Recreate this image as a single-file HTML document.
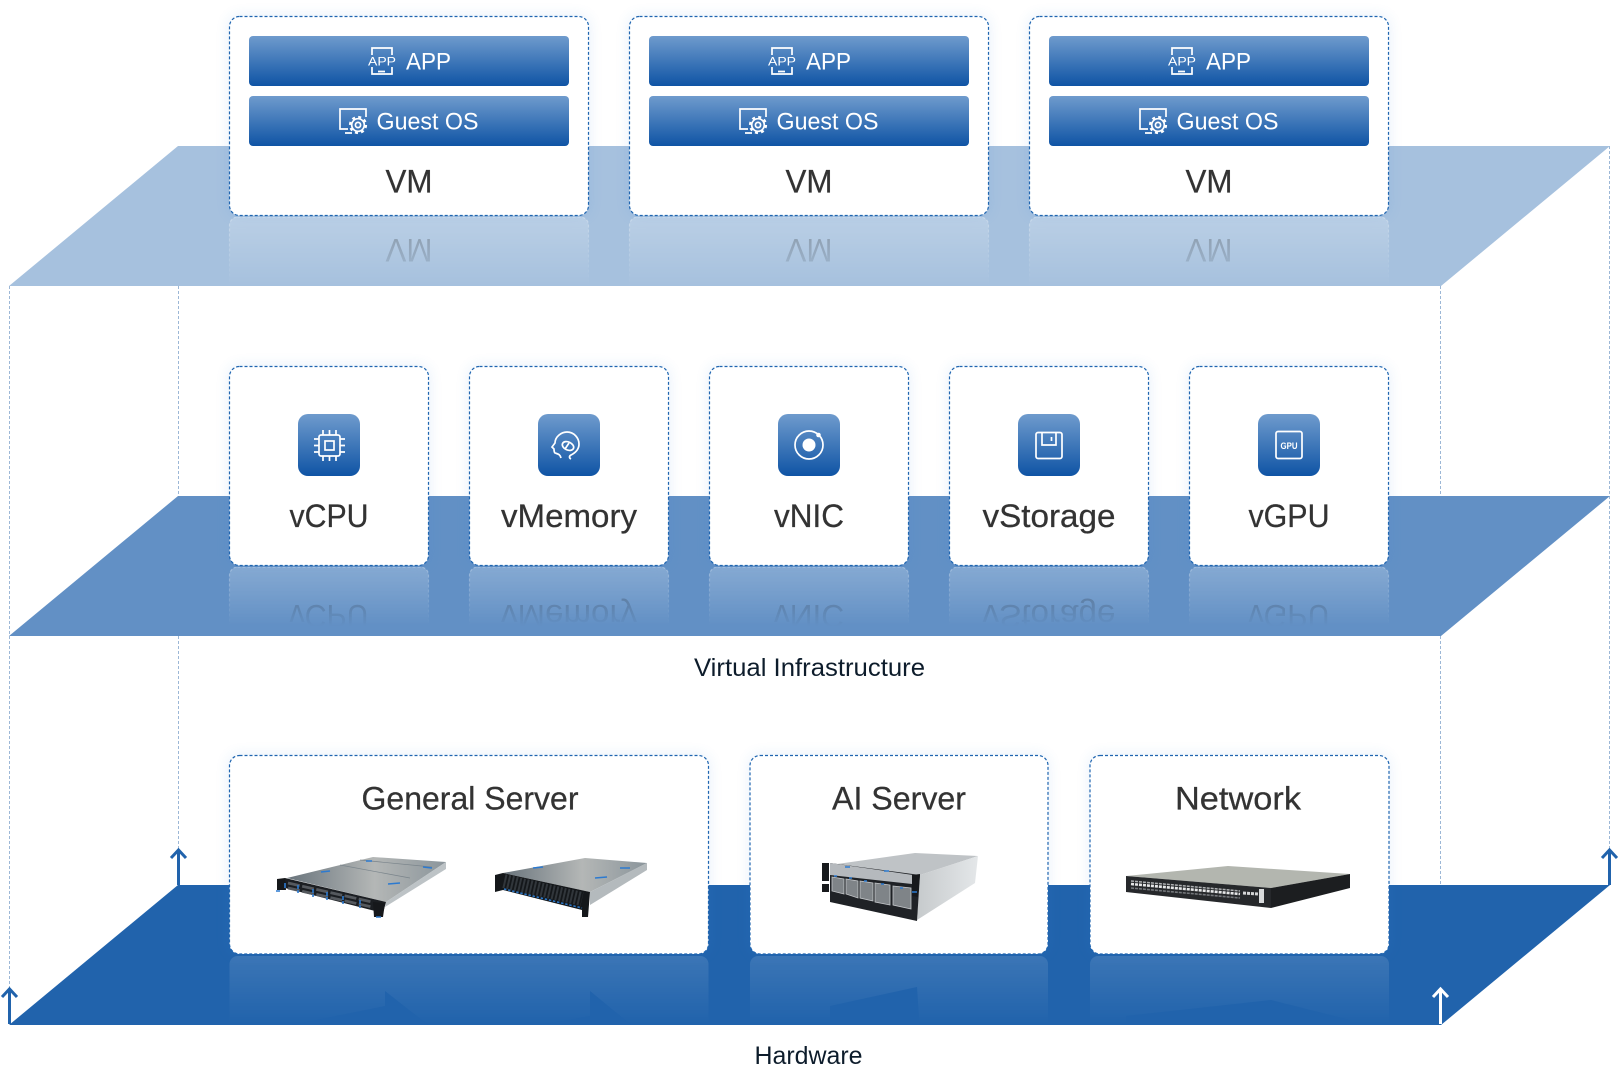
<!DOCTYPE html>
<html><head><meta charset="utf-8"><title>Architecture</title>
<style>
html,body{margin:0;padding:0;background:#fff;width:1619px;height:1066px;overflow:hidden}
svg{display:block}
text{font-family:"Liberation Sans",sans-serif;text-anchor:middle}
.t{fill:#333;font-size:32px;stroke:#333;stroke-width:.25}
.w{fill:#fff;font-size:24px}
.l{fill:#0d1c2b;font-size:25px}
.c{fill:#fff;stroke:#1f65b0;stroke-width:1.2;stroke-dasharray:3 2}
.g{fill:#3a86d6;opacity:.13;filter:url(#blur)}
.vl{stroke:#9cb7d6;stroke-width:1;stroke-dasharray:3 2;fill:none}
.rf{fill:#fff;fill-opacity:.23;stroke:#fff;stroke-opacity:.3;stroke-width:1.2;stroke-dasharray:3 2}
.ic{fill:none;stroke:#fff;stroke-width:1.7}
.ar{fill:none;stroke-width:3}
.bl{stroke:#2c7ad0;stroke-width:1.6;fill:none}
</style></head><body>
<svg width="1619" height="1066" viewBox="0 0 1619 1066" xmlns="http://www.w3.org/2000/svg">
<defs>
<filter id="blur" x="-20%" y="-20%" width="140%" height="140%"><feGaussianBlur stdDeviation="7"/></filter>
<linearGradient id="btn" x1="0" y1="0" x2="0" y2="1"><stop offset="0" stop-color="#6f9bcd"/><stop offset="1" stop-color="#0f54a5"/></linearGradient>
<linearGradient id="f1" gradientUnits="userSpaceOnUse" x1="0" y1="217" x2="0" y2="286"><stop offset="0" stop-color="#fff"/><stop offset="1" stop-color="#fff" stop-opacity=".02"/></linearGradient>
<linearGradient id="f2" gradientUnits="userSpaceOnUse" x1="0" y1="567" x2="0" y2="626"><stop offset="0" stop-color="#fff"/><stop offset="1" stop-color="#fff" stop-opacity="0"/></linearGradient>
<linearGradient id="f3" gradientUnits="userSpaceOnUse" x1="0" y1="955" x2="0" y2="1025"><stop offset="0" stop-color="#fff"/><stop offset="1" stop-color="#fff" stop-opacity="0"/></linearGradient>
<mask id="m1" maskUnits="userSpaceOnUse" x="0" y="200" width="1619" height="90"><rect x="0" y="200" width="1619" height="90" fill="url(#f1)"/></mask>
<mask id="m2" maskUnits="userSpaceOnUse" x="0" y="550" width="1619" height="90"><rect x="0" y="550" width="1619" height="90" fill="url(#f2)"/></mask>
<mask id="m3" maskUnits="userSpaceOnUse" x="0" y="940" width="1619" height="90"><rect x="0" y="940" width="1619" height="90" fill="url(#f3)"/></mask>
<clipPath id="c1"><rect x="0" y="217" width="1619" height="69"/></clipPath>
<clipPath id="c2"><rect x="0" y="567" width="1619" height="69"/></clipPath>
<clipPath id="c3"><rect x="0" y="956" width="1619" height="69"/></clipPath>
<linearGradient id="metal" x1="0" y1="0" x2="1" y2="0"><stop offset="0" stop-color="#69747c"/><stop offset=".55" stop-color="#b4b7b6"/><stop offset="1" stop-color="#8b959b"/></linearGradient>
<linearGradient id="metal2" x1="0" y1="0" x2="1" y2="0"><stop offset="0" stop-color="#c6cacc"/><stop offset="1" stop-color="#e4e7e9"/></linearGradient>
<g id="gicon">
<path class="ic" stroke-width="1.5" d="M366 117V109H340V129H348M345 133H352"/>
<circle cx="358" cy="125" r="8" fill="#3f76b6" stroke="none"/>
<circle class="ic" cx="358" cy="125" r="6.3"/>
<circle cx="358" cy="125" r="8" fill="none" stroke="#fff" stroke-width="2.2" stroke-dasharray="3 3.28"/>
<circle class="ic" stroke-width="1.4" cx="358" cy="125" r="2.6"/>
</g>
<g id="s1">
<polygon points="287,878 373,857 446,862 386,902" fill="url(#metal)"/>
<polygon points="386,902 446,862 446,869 385,907" fill="#bdc3c6"/>
<line x1="340" y1="865" x2="410" y2="878" stroke="#7a848b" stroke-width=".7"/><line x1="360" y1="860" x2="432" y2="867" stroke="#7a848b" stroke-width=".7"/>
<polygon points="285,878 386,902 383,913 285,888" fill="#1b1e22"/>
<polygon points="277,879 285,878 286,890 277,890" fill="#16181b"/>
<polygon points="373,902 385,903 383,917 374,917" fill="#16181b"/>
<line x1="288" y1="883" x2="372" y2="902" stroke="#55595e" stroke-width="2.8" stroke-dasharray="12 2.5"/>
<line x1="288" y1="888" x2="372" y2="907" stroke="#55595e" stroke-width="2.8" stroke-dasharray="12 2.5"/>
<path class="bl" d="M285 883v5M298 885v4M313 889v4M327 892v4M343 896v4M360 900v4M298 890v3M313 894v3M327 897v3M343 901v3M360 905v3"/>
<path class="bl" stroke-width="2.4" d="M321 872l9-1M388 884l12-1M423 867l9 1M366 861l6 0"/><path class="bl" d="M276 891h4M376 917h5"/>
</g>
<g id="s2">
<polygon points="503,873 585,858 647,863 590,892" fill="url(#metal)"/>
<polygon points="590,892 647,863 647,870 590,905" fill="#b4babd"/>
<polygon points="495,875 503,873 590,892 588,917 582,917 582,910 503,890 495,892" fill="#14171a"/>
<line x1="504" y1="881" x2="582" y2="899" stroke="#31363b" stroke-width="14" stroke-dasharray="2 1.8"/>
<line x1="504" y1="889" x2="582" y2="908" stroke="#2c78c8" stroke-width="1.6" stroke-dasharray="2.4 1.8"/>
<path class="bl" stroke-width="2.2" d="M533 868l10-1M595 878l12-1M620 868l10 0"/>
</g>
<g id="s3">
<polygon points="830,865 915,853 978,856 920,875" fill="#bfc3c6"/>
<polygon points="920,875 978,856 975,883 917,920" fill="url(#metal2)"/>
<polygon points="830,863 920,875 917,921 830,902" fill="#1f2226"/>
<polygon points="830,863 913,875 912,884 830,875" fill="#b5b9bd"/>
<g fill="#7f8488" stroke="#c4c7ca" stroke-width=".8">
<polygon points="832,877 844,879 844,894 832,891"/>
<polygon points="846,879 858,881 858,898 846,894"/>
<polygon points="860,881 873,883 873,901 860,898"/>
<polygon points="875,883 890,885 890,905 875,902"/>
<polygon points="893,886 911,888 911,909 893,905"/>
</g>
<polygon points="912,875 920,874 918,897 912,896" fill="#17191c"/>
<polygon points="822,863 829,863 829,881 822,881" fill="#17191c"/><polygon points="822,884 829,884 829,892 822,892" fill="#17191c"/>
<path class="bl" stroke-width="2" d="M845 867h5M884 871h5M834 876h3M849 878h3M864 881h3M881 884h3M900 888h3M912 892h5"/>
</g>
<g id="s4">
<polygon points="1126,876 1228,866 1350,874 1271,888" fill="#b3b6af"/>
<polygon points="1271,888 1350,874 1350,888 1271,908" fill="#1c1e20"/>
<polygon points="1126,876 1271,888 1271,908 1126,892" fill="#26282b"/>
<line x1="1131" y1="881" x2="1240" y2="891" stroke="#aeb0b2" stroke-width="1.5" stroke-dasharray="3 1"/>
<line x1="1131" y1="884" x2="1240" y2="894" stroke="#e6e7e8" stroke-width="2.6" stroke-dasharray="3 1"/>
<line x1="1131" y1="888" x2="1240" y2="898" stroke="#75787c" stroke-width="1.6" stroke-dasharray="3 1"/>
<line x1="1243" y1="893" x2="1258" y2="894" stroke="#d5d6d7" stroke-width="3" stroke-dasharray="3 1"/>
<rect x="1259" y="889" width="5" height="14" fill="#d8dadb"/>
</g>
</defs>

<!-- dashed uprights -->
<path class="vl" d="M9.5 286V988M178.5 286V849M1440.5 286V990M1609.5 146V849"/>

<!-- planes -->
<polygon points="178,146 1610,146 1441,286 9,286" fill="#a6c1de"/>
<polygon points="178,496 1610,496 1441,636 9,636" fill="#6290c5"/>
<polygon points="178,885 1610,885 1441,1025 9,1025" fill="#2163ac"/>

<!-- arrows -->
<path class="ar" stroke="#2163ac" d="M9.5 1024V990M2 997L9.5 989L17 997"/>
<path class="ar" stroke="#2163ac" d="M178.5 885V851M171 858L178.5 850L186 858"/>
<path class="ar" stroke="#2163ac" d="M1609.5 885V851M1602 858L1609.5 850L1617 858"/>
<path class="ar" stroke="#fff" d="M1440.5 1024V990M1433 997L1440.5 989L1448 997"/>

<!-- glows -->
<rect class="g" x="229" y="16" width="360" height="200" rx="10"/><rect class="g" x="629" y="16" width="360" height="200" rx="10"/><rect class="g" x="1029" y="16" width="360" height="200" rx="10"/>
<rect class="g" x="229" y="366" width="200" height="200" rx="10"/><rect class="g" x="469" y="366" width="200" height="200" rx="10"/><rect class="g" x="709" y="366" width="200" height="200" rx="10"/><rect class="g" x="949" y="366" width="200" height="200" rx="10"/><rect class="g" x="1189" y="366" width="200" height="200" rx="10"/>
<rect class="g" x="229" y="755" width="480" height="199" rx="10"/><rect class="g" x="750" y="755" width="298" height="199" rx="10"/><rect class="g" x="1090" y="755" width="299" height="199" rx="10"/>

<!-- reflections row 1 -->
<g clip-path="url(#c1)"><g mask="url(#m1)">
<rect class="rf" x="229.5" y="217" width="359" height="90" rx="8"/><rect class="rf" x="629.5" y="217" width="359" height="90" rx="8"/><rect class="rf" x="1029.5" y="217" width="359" height="90" rx="8"/>
<g fill-opacity=".38">
<text class="t" style="stroke:none" transform="translate(409 239) scale(1 -1)" textLength="47" lengthAdjust="spacingAndGlyphs">VM</text>
<text class="t" style="stroke:none" transform="translate(809 239) scale(1 -1)" textLength="47" lengthAdjust="spacingAndGlyphs">VM</text>
<text class="t" style="stroke:none" transform="translate(1209 239) scale(1 -1)" textLength="47" lengthAdjust="spacingAndGlyphs">VM</text>
</g></g></g>

<!-- reflections row 2 -->
<g clip-path="url(#c2)"><g mask="url(#m2)">
<rect class="rf" x="229.5" y="567" width="199" height="90" rx="8"/><rect class="rf" x="469.5" y="567" width="199" height="90" rx="8"/><rect class="rf" x="709.5" y="567" width="199" height="90" rx="8"/><rect class="rf" x="949.5" y="567" width="199" height="90" rx="8"/><rect class="rf" x="1189.5" y="567" width="199" height="90" rx="8"/>
<g fill-opacity=".5">
<text class="t" style="stroke:none" transform="translate(329 605) scale(1 -1)" textLength="79" lengthAdjust="spacingAndGlyphs">vCPU</text>
<text class="t" style="stroke:none" transform="translate(569 605) scale(1 -1)" textLength="136" lengthAdjust="spacingAndGlyphs">vMemory</text>
<text class="t" style="stroke:none" transform="translate(809 605) scale(1 -1)" textLength="70" lengthAdjust="spacingAndGlyphs">vNIC</text>
<text class="t" style="stroke:none" transform="translate(1049 605) scale(1 -1)" textLength="133" lengthAdjust="spacingAndGlyphs">vStorage</text>
<text class="t" style="stroke:none" transform="translate(1289 605) scale(1 -1)" textLength="81" lengthAdjust="spacingAndGlyphs">vGPU</text>
</g></g></g>

<!-- reflections row 3 -->
<g clip-path="url(#c3)">
<g mask="url(#m3)">
<rect x="229.5" y="956" width="479" height="90" rx="8" fill="#fff" fill-opacity=".12"/><rect x="750" y="956" width="298" height="90" rx="8" fill="#fff" fill-opacity=".12"/><rect x="1090" y="956" width="299" height="90" rx="8" fill="#fff" fill-opacity=".12"/>
</g>
<g transform="translate(0 1908) scale(1 -1)" fill="#2163ac">
<polygon points="277,880 385,902 385,917 446,869 446,862 373,857"/>
<polygon points="495,875 590,892 590,917 647,870 647,863 585,858"/>
<polygon points="830,902 917,921 920,875 978,856 915,853 830,865"/>
<polygon points="1126,892 1271,908 1350,888 1350,874 1228,866 1126,876"/>
</g>
</g>

<!-- VM cards -->
<rect class="c" x="229.5" y="16.5" width="359" height="199" rx="10"/>
<rect class="c" x="629.5" y="16.5" width="359" height="199" rx="10"/>
<rect class="c" x="1029.5" y="16.5" width="359" height="199" rx="10"/>
<rect x="249" y="36" width="320" height="50" rx="4" fill="url(#btn)"/><rect x="249" y="96" width="320" height="50" rx="4" fill="url(#btn)"/>
<rect x="649" y="36" width="320" height="50" rx="4" fill="url(#btn)"/><rect x="649" y="96" width="320" height="50" rx="4" fill="url(#btn)"/>
<rect x="1049" y="36" width="320" height="50" rx="4" fill="url(#btn)"/><rect x="1049" y="96" width="320" height="50" rx="4" fill="url(#btn)"/>

<text class="w" x="428.5" y="69.5" textLength="45" lengthAdjust="spacingAndGlyphs">APP</text>
<text class="w" x="427.5" y="129.5" textLength="102" lengthAdjust="spacingAndGlyphs">Guest OS</text>
<text class="w" x="828.5" y="69.5" textLength="45" lengthAdjust="spacingAndGlyphs">APP</text>
<text class="w" x="827.5" y="129.5" textLength="102" lengthAdjust="spacingAndGlyphs">Guest OS</text>
<text class="w" x="1228.5" y="69.5" textLength="45" lengthAdjust="spacingAndGlyphs">APP</text>
<text class="w" x="1227.5" y="129.5" textLength="102" lengthAdjust="spacingAndGlyphs">Guest OS</text>

<g>
<path class="ic" stroke-width="1.4" d="M372 55V48H392V55M372 67V74H392V67M378 71.500H385"/>
<text x="382" y="65.500" style="font-size:12px;fill:#fff" textLength="28" lengthAdjust="spacingAndGlyphs">APP</text>
<path class="ic" stroke-width="1.4" d="M772 55V48H792V55M772 67V74H792V67M778 71.500H785"/>
<text x="782" y="65.500" style="font-size:12px;fill:#fff" textLength="28" lengthAdjust="spacingAndGlyphs">APP</text>
<path class="ic" stroke-width="1.4" d="M1172 55V48H1192V55M1172 67V74H1192V67M1178 71.500H1185"/>
<text x="1182" y="65.500" style="font-size:12px;fill:#fff" textLength="28" lengthAdjust="spacingAndGlyphs">APP</text>
</g>
<use href="#gicon"/><use href="#gicon" x="400"/><use href="#gicon" x="800"/>

<text class="t" x="409" y="192.500" textLength="47" lengthAdjust="spacingAndGlyphs">VM</text>
<text class="t" x="809" y="192.500" textLength="47" lengthAdjust="spacingAndGlyphs">VM</text>
<text class="t" x="1209" y="192.500" textLength="47" lengthAdjust="spacingAndGlyphs">VM</text>

<!-- Virtual cards -->
<rect class="c" x="229.5" y="366.5" width="199" height="199" rx="10"/>
<rect class="c" x="469.5" y="366.5" width="199" height="199" rx="10"/>
<rect class="c" x="709.5" y="366.5" width="199" height="199" rx="10"/>
<rect class="c" x="949.5" y="366.5" width="199" height="199" rx="10"/>
<rect class="c" x="1189.5" y="366.5" width="199" height="199" rx="10"/>
<rect x="298" y="414" width="62" height="62" rx="10" fill="url(#btn)"/>
<rect x="538" y="414" width="62" height="62" rx="10" fill="url(#btn)"/>
<rect x="778" y="414" width="62" height="62" rx="10" fill="url(#btn)"/>
<rect x="1018" y="414" width="62" height="62" rx="10" fill="url(#btn)"/>
<rect x="1258" y="414" width="62" height="62" rx="10" fill="url(#btn)"/>

<!-- cpu -->
<rect class="ic" x="319" y="435" width="21" height="21" rx="2"/><rect class="ic" x="325" y="441" width="9" height="9"/>
<path class="ic" d="M323 430V435M329.500 430V435M336 430V435M323 456V461M329.500 456V461M336 456V461M314 439H319M314 445.500H319M314 452H319M340 439H345M340 445.500H345M340 452H345"/>
<!-- memory head -->
<path class="ic" d="M561 458c-1-4-3-4-6-5-1-1-1-3-1-4l-2-2 3-4c0-6 6-11 12-11 7 0 12 6 12 12 0 6-4 9-8 11-2 1-2 3 0 4"/>
<ellipse class="ic" cx="568" cy="446" rx="6" ry="4" transform="rotate(25 568 446)"/><path class="ic" d="M565 449l4-6"/>
<!-- nic -->
<circle class="ic" cx="809" cy="445" r="14"/><circle cx="809" cy="445" r="6.500" fill="#fff"/><circle cx="818.500" cy="435" r="2.300" fill="#fff"/>
<!-- storage -->
<rect class="ic" x="1036" y="432.500" width="26" height="26" rx="2"/><path class="ic" d="M1042 432.500V445H1056V432.500"/><path class="ic" d="M1051.500 437V441"/>
<!-- gpu -->
<rect class="ic" x="1276" y="431.500" width="26" height="27" rx="2"/>
<text x="1289" y="449" style="font-size:9px;font-weight:bold;fill:#fff" textLength="17" lengthAdjust="spacingAndGlyphs">GPU</text>

<text class="t" x="329" y="527" textLength="79" lengthAdjust="spacingAndGlyphs">vCPU</text>
<text class="t" x="569" y="527" textLength="136" lengthAdjust="spacingAndGlyphs">vMemory</text>
<text class="t" x="809" y="527" textLength="70" lengthAdjust="spacingAndGlyphs">vNIC</text>
<text class="t" x="1049" y="527" textLength="133" lengthAdjust="spacingAndGlyphs">vStorage</text>
<text class="t" x="1289" y="527" textLength="81" lengthAdjust="spacingAndGlyphs">vGPU</text>

<text class="l" x="809.500" y="676" textLength="231" lengthAdjust="spacingAndGlyphs">Virtual Infrastructure</text>

<!-- Hardware cards -->
<rect class="c" x="229.5" y="755.5" width="479" height="198.5" rx="10"/>
<rect class="c" x="750" y="755.5" width="298" height="198.5" rx="10"/>
<rect class="c" x="1090" y="755.5" width="299" height="198.5" rx="10"/>
<text class="t" x="470" y="809.500" textLength="217" lengthAdjust="spacingAndGlyphs">General Server</text>
<text class="t" x="899" y="809.500" textLength="134" lengthAdjust="spacingAndGlyphs">AI Server</text>
<text class="t" x="1238" y="809.500" textLength="126" lengthAdjust="spacingAndGlyphs">Network</text>
<use href="#s1"/><use href="#s2"/><use href="#s3"/><use href="#s4"/>

<text class="l" x="808.500" y="1064" textLength="108" lengthAdjust="spacingAndGlyphs">Hardware</text>
</svg>
</body></html>
